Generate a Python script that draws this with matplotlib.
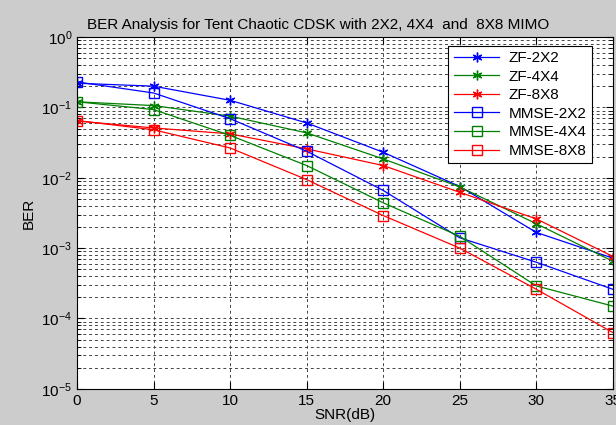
import matplotlib
matplotlib.use('Agg')
import matplotlib.pyplot as plt
import numpy as np
from matplotlib.ticker import LogLocator, FixedLocator

plt.rcParams['font.family'] = ['Liberation Sans', 'DejaVu Sans']

snr = [0, 5, 10, 15, 20, 25, 30, 35]

zf_2x2 = [0.22, 0.20, 0.126, 0.060, 0.023, 0.0075, 0.00167, 0.00072]
zf_4x4 = [0.12, 0.106, 0.075, 0.0434, 0.0185, 0.0074, 0.00222, 0.00065]
zf_8x8 = [0.064, 0.051, 0.042, 0.0257, 0.0149, 0.0062, 0.0026, 0.00076]
mmse_2x2 = [0.23, 0.16, 0.069, 0.0238, 0.0066, 0.0014, 0.00063, 0.00026]
mmse_4x4 = [0.12, 0.093, 0.040, 0.0149, 0.0044, 0.00147, 0.00029, 0.00015]
mmse_8x8 = [0.065, 0.048, 0.0265, 0.0094, 0.0029, 0.0010, 0.00026, 0.000063]

series = [
    ('ZF-2X2', zf_2x2, '#0000ff', '*'),
    ('ZF-4X4', zf_4x4, '#008000', '*'),
    ('ZF-8X8', zf_8x8, '#ff0000', '*'),
    ('MMSE-2X2', mmse_2x2, '#0000ff', 's'),
    ('MMSE-4X4', mmse_4x4, '#008000', 's'),
    ('MMSE-8X8', mmse_8x8, '#ff0000', 's'),
]

fig = plt.figure(figsize=(6.16, 4.25), dpi=100, facecolor='#cccccc')
ax = fig.add_axes([0.125, 0.085, 0.87, 0.828])
ax.set_facecolor('white')

for name, vals, col, mk in series:
    if mk == 's':
        ax.semilogy(snr, vals, color=col, marker='s', markersize=7.5,
                    markerfacecolor='none', markeredgecolor=col,
                    linewidth=0.9, label=name)
    else:
        # thin asterisk
        ax.semilogy(snr, vals, color=col, marker=(6, 2, 0), markersize=7,
                    markeredgewidth=1.0, linewidth=0.9, label=name)

ax.set_xlim(0, 35)
ax.set_ylim(1e-5, 1)
ax.xaxis.set_major_locator(FixedLocator(snr))
ax.yaxis.set_major_locator(LogLocator(base=10, numticks=10))
ax.yaxis.set_minor_locator(LogLocator(base=10, subs=np.arange(2, 10), numticks=50))

ax.grid(True, which='major', axis='x', color='#444444', linestyle=(0, (3, 3)), linewidth=0.7)
ax.grid(True, which='both', axis='y', color='#444444', linestyle=(0, (3, 3)), linewidth=0.7)

ax.tick_params(which='both', direction='in', top=True, right=True, labelsize=11)
ax.tick_params(which='major', length=5)
ax.tick_params(which='minor', length=3)
for s in ax.spines.values():
    s.set_color('black')
    s.set_linewidth(0.8)

ax.set_title('BER Analysis for Tent Chaotic CDSK with 2X2, 4X4  and  8X8 MIMO',
             fontsize=11, pad=6, x=0.45)
ax.set_xlabel('SNR(dB)', fontsize=11, labelpad=0)
ax.set_ylabel('BER', fontsize=11, labelpad=4)

leg = ax.legend(loc='upper right', fontsize=11, fancybox=False, framealpha=1,
                edgecolor='black', handlelength=3.0, borderpad=0.35,
                labelspacing=0.3, handletextpad=0.6,
                bbox_to_anchor=(0.975, 0.997))
leg.get_frame().set_linewidth(0.8)

fig.savefig('out.png', dpi=100, facecolor=fig.get_facecolor())
